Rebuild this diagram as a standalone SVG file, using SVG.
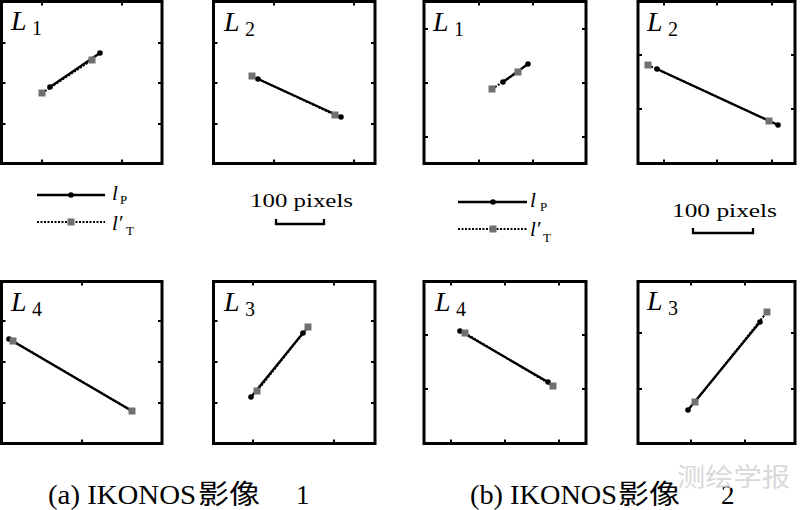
<svg xmlns="http://www.w3.org/2000/svg" width="800" height="510" viewBox="0 0 800 510">
<style>
.box{fill:none;stroke:#000;stroke-width:3}
.tk{stroke:#000;stroke-width:2;fill:none}
.lp{stroke:#000;stroke-width:2.3;fill:none}
.lt{stroke:#000;stroke-width:2;stroke-dasharray:2 1.5;fill:none}
.pt{fill:#000}
.sq{fill:#707070}
.lab{font-family:"Liberation Serif","Times New Roman",serif;font-style:italic;font-size:28px;fill:#000}
.sub{font-family:"Liberation Serif","Times New Roman",serif;font-style:normal;font-size:20px;fill:#000}
.leg{font-family:"Liberation Serif","Times New Roman",serif;font-style:italic;font-size:21px;fill:#000}
.legs{font-family:"Liberation Serif","Times New Roman",serif;font-style:normal;font-size:13px;fill:#000}
.sc{font-family:"Liberation Serif","Times New Roman",serif;font-size:18px;fill:#000}
.cap{font-family:"Liberation Serif","Noto Sans CJK SC",serif;font-size:27px;fill:#000}
.wm{font-family:"Noto Sans CJK SC",sans-serif;font-size:25px;fill:#d9d9d9}
</style>
<defs>
<rect id="sq" x="-3.5" y="-3.5" width="7" height="7" class="sq"/>
<circle id="pt" r="2.8" class="pt"/>
</defs>

<g id="panel-a-L1">
<rect class="box" x="1.5" y="1.5" width="160.5" height="162"/>
<path class="tk" d="M42,1.5v4M122,1.5v4M42,163.5v-4M122,163.5v-4M1.5,43h4M1.5,83h4M1.5,124h4M162,43h-4M162,83h-4M162,124h-4"/>
<text class="lab" x="11" y="30">L</text><text class="sub" x="32" y="35">1</text>
<line class="lt" x1="42" y1="93" x2="92" y2="60"/>
<line class="lp" x1="50" y1="87" x2="100" y2="53"/>
<use href="#pt" x="50" y="87"/><use href="#pt" x="100" y="53"/>
<use href="#sq" x="42" y="93"/><use href="#sq" x="92" y="60"/>
</g>

<g id="panel-a-L2">
<rect class="box" x="213.5" y="1.5" width="161.5" height="162"/>
<path class="tk" d="M274,1.5v4M354,1.5v4M274,163.5v-4M354,163.5v-4M213.5,43h4M213.5,83h4M213.5,124h4M375,43h-4M375,83h-4M375,124h-4"/>
<text class="lab" x="224" y="31">L</text><text class="sub" x="245" y="36">2</text>
<line class="lt" x1="252" y1="76" x2="335" y2="115"/>
<line class="lp" x1="258" y1="79" x2="341" y2="117"/>
<use href="#pt" x="258" y="79"/><use href="#pt" x="341" y="117"/>
<use href="#sq" x="252" y="76"/><use href="#sq" x="335" y="115"/>
</g>

<g id="panel-b-L1">
<rect class="box" x="424" y="1.5" width="162" height="162"/>
<path class="tk" d="M479,1.5v4M533,1.5v4M479,163.5v-4M533,163.5v-4M424,29h4M424,83h4M424,137h4M586,29h-4M586,83h-4M586,137h-4"/>
<text class="lab" x="433" y="31">L</text><text class="sub" x="454" y="36">1</text>
<line class="lt" x1="492" y1="89" x2="518" y2="72"/>
<line class="lp" x1="503" y1="82" x2="528" y2="64"/>
<use href="#pt" x="503" y="82"/><use href="#pt" x="528" y="64"/>
<use href="#sq" x="492" y="89"/><use href="#sq" x="518" y="72"/>
</g>

<g id="panel-b-L2">
<rect class="box" x="638" y="1.5" width="157" height="162"/>
<path class="tk" d="M664,1.5v4M717,1.5v4M772,1.5v4M664,163.5v-4M717,163.5v-4M772,163.5v-4M638,55h4M638,109h4M795,55h-4M795,109h-4"/>
<text class="lab" x="647" y="31">L</text><text class="sub" x="668" y="36">2</text>
<line class="lt" x1="648" y1="65" x2="769" y2="121"/>
<line class="lp" x1="657" y1="69" x2="778" y2="125"/>
<use href="#pt" x="657" y="69"/><use href="#pt" x="778" y="125"/>
<use href="#sq" x="648" y="65"/><use href="#sq" x="769" y="121"/>
</g>

<g id="legend-a">
<line class="lp" x1="37" y1="195" x2="105" y2="195"/>
<use href="#pt" x="71" y="195"/>
<line class="lt" x1="37" y1="222" x2="105" y2="222"/>
<use href="#sq" x="71" y="222"/>
<text class="leg" x="112" y="200">l</text><text class="legs" x="120" y="204">P</text>
<text class="leg" x="112" y="230">l′</text><text class="legs" x="126" y="235">T</text>
</g>

<g id="scale-a">
<text class="sc" x="250" y="207" textLength="103" lengthAdjust="spacingAndGlyphs">100 pixels</text>
<path class="lp" d="M276,219V224H324V219"/>
</g>

<g id="legend-b">
<line class="lp" x1="458" y1="202" x2="527" y2="202"/>
<use href="#pt" x="493" y="202"/>
<line class="lt" x1="458" y1="229" x2="527" y2="229"/>
<use href="#sq" x="493" y="229"/>
<text class="leg" x="530" y="207">l</text><text class="legs" x="540" y="211">P</text>
<text class="leg" x="530" y="236">l′</text><text class="legs" x="543" y="242">T</text>
</g>

<g id="scale-b">
<text class="sc" x="672" y="217" textLength="105" lengthAdjust="spacingAndGlyphs">100 pixels</text>
<path class="lp" d="M693,228V233H753V228"/>
</g>

<g id="panel-a-L4">
<rect class="box" x="1.5" y="281.5" width="160.5" height="162"/>
<path class="tk" d="M82,281.5v4M82,443.5v-4M1.5,321h4M1.5,362h4M1.5,403h4M162,321h-4M162,362h-4M162,403h-4"/>
<text class="lab" x="11" y="311">L</text><text class="sub" x="32" y="316">4</text>
<line class="lt" x1="13" y1="341" x2="132" y2="411"/>
<line class="lp" x1="9" y1="339" x2="132" y2="411"/>
<use href="#pt" x="9" y="339"/><use href="#pt" x="132" y="411"/>
<use href="#sq" x="13" y="341"/><use href="#sq" x="132" y="411"/>
</g>

<g id="panel-a-L3">
<rect class="box" x="213.5" y="281.5" width="161.5" height="162"/>
<path class="tk" d="M253,281.5v4M334,281.5v4M253,443.5v-4M334,443.5v-4M213.5,321h4M213.5,362h4M213.5,403h4M375,321h-4M375,362h-4M375,403h-4"/>
<text class="lab" x="224" y="311">L</text><text class="sub" x="245" y="316">3</text>
<line class="lt" x1="257" y1="391" x2="308" y2="327"/>
<line class="lp" x1="251" y1="397" x2="303" y2="333"/>
<use href="#pt" x="251" y="397"/><use href="#pt" x="303" y="333"/>
<use href="#sq" x="257" y="391"/><use href="#sq" x="308" y="327"/>
</g>

<g id="panel-b-L4">
<rect class="box" x="424" y="281.5" width="162" height="162"/>
<path class="tk" d="M451,281.5v4M505,281.5v4M559,281.5v4M451,443.5v-4M505,443.5v-4M559,443.5v-4M424,335h4M424,389h4M586,335h-4M586,389h-4"/>
<text class="lab" x="435" y="311">L</text><text class="sub" x="456" y="316">4</text>
<line class="lt" x1="465" y1="333" x2="553" y2="386"/>
<line class="lp" x1="460" y1="331" x2="548" y2="382"/>
<use href="#pt" x="460" y="331"/><use href="#pt" x="548" y="382"/>
<use href="#sq" x="465" y="333"/><use href="#sq" x="553" y="386"/>
</g>

<g id="panel-b-L3">
<rect class="box" x="638" y="281.5" width="157" height="162"/>
<path class="tk" d="M691,281.5v4M745,281.5v4M691,443.5v-4M745,443.5v-4M638,333h4M638,389h4M795,333h-4M795,389h-4"/>
<text class="lab" x="647" y="310">L</text><text class="sub" x="668" y="315">3</text>
<line class="lt" x1="695" y1="402" x2="767" y2="312"/>
<line class="lp" x1="688" y1="410" x2="760" y2="322"/>
<use href="#pt" x="688" y="410"/><use href="#pt" x="760" y="322"/>
<use href="#sq" x="695" y="402"/><use href="#sq" x="767" y="312"/>
</g>

<g id="captions">
<text class="cap" y="504"><tspan x="48" textLength="148" lengthAdjust="spacingAndGlyphs">(a) IKONOS</tspan><tspan x="198" textLength="62" lengthAdjust="spacingAndGlyphs">影像</tspan><tspan x="296">1</tspan></text>
<text class="cap" y="504"><tspan x="470" textLength="147" lengthAdjust="spacingAndGlyphs">(b) IKONOS</tspan><tspan x="618" textLength="62" lengthAdjust="spacingAndGlyphs">影像</tspan><tspan x="721">2</tspan></text>
<text class="wm" x="677" y="486" textLength="113" lengthAdjust="spacingAndGlyphs">测绘学报</text>
</g>
</svg>
